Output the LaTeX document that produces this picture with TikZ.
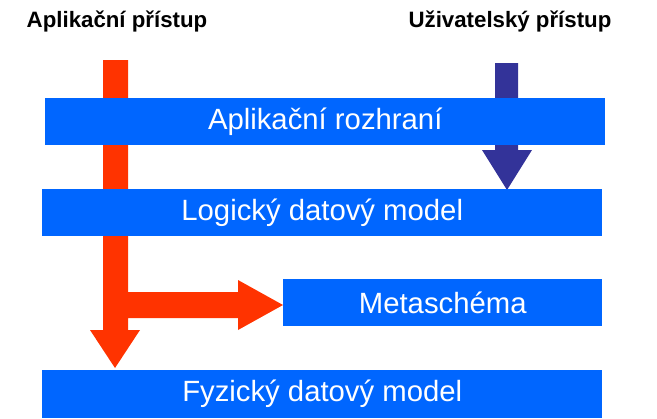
\documentclass[tikz,border=0pt]{standalone}
\usepackage{fontspec}
\setmainfont{Liberation Sans}
\definecolor{barblue}{RGB}{0,102,255}
\definecolor{arrred}{RGB}{255,51,0}
\definecolor{arrblue}{RGB}{51,51,153}
\tikzset{
  bar/.style={fill=barblue, draw=none, anchor=north west, text=white,
    font=\fontsize{25}{28}\selectfont, inner sep=0pt},
  head/.style={font=\bfseries\fontsize{19}{22}\selectfont, inner sep=0pt}
}
\begin{document}
\begin{tikzpicture}[x=0.03cm, y=-0.03cm]
  \useasboundingbox (0,0) rectangle (657,418);

  % Headings
  \node[head] (app)  at (117,21) {Aplikační přístup};
  \node[head] (user) at (510,21) {Uživatelský přístup};

  % Arrows (behind the bars)
  \fill[arrred] (103,60) -- (128,60) -- (128,292) -- (238,292) -- (238,280)
     -- (283,305) -- (238,330) -- (238,318) -- (128,318) -- (128,330)
     -- (140,330) -- (115,368) -- (90,330) -- (103,330) -- cycle;
  \fill[arrblue] (495,63) -- (518,63) -- (518,150) -- (532,150) -- (507,190)
     -- (482,150) -- (495,150) -- cycle;

  % Layers
  \node[bar, minimum width=560*0.03cm, minimum height=47*0.03cm] (api)  at (45,98)  {Aplikační rozhraní};
  \node[bar, minimum width=560*0.03cm, minimum height=47*0.03cm] (ldm)  at (42,189) {Logický datový model};
  \node[bar, minimum width=319*0.03cm, minimum height=47*0.03cm] (meta) at (283,279) {Metaschéma};
  \node[bar, minimum width=560*0.03cm, minimum height=48*0.03cm] (fdm)  at (42,370) {Fyzický datový model};
\end{tikzpicture}
\end{document}
